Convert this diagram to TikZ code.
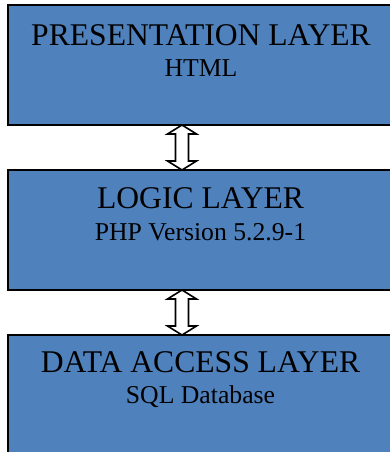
\documentclass[tikz,border=0pt]{standalone}
\usepackage{fontspec}
\setmainfont{Liberation Serif}
\definecolor{layerblue}{HTML}{4F81BD}
\begin{document}
\begin{tikzpicture}[x=1pt,y=-1pt,
  layer/.style={draw=black, line width=2pt, fill=layerblue,
    minimum width=385pt, minimum height=120pt, inner sep=0pt},
  title/.style={anchor=base, inner sep=0pt, font=\fontsize{31.6}{31.6}\selectfont},
  subtitle/.style={anchor=base, inner sep=0pt, font=\fontsize{25.7}{25.7}\selectfont},
  blockarrow/.style={draw=black, line width=1.6pt, fill=white, line join=miter}]
\clip (0,0) rectangle (390,452);
\fill[white] (0,0) rectangle (390,452);

% three stacked layers
\node[layer] (pres)  at (200.5,65)  {};
\node[layer] (logic) at (200.5,230) {};
\node[layer] (data)  at (200.5,395) {};

\node[title]    (presT)  at (201,46)  {PRESENTATION LAYER};
\node[subtitle] (presS)  at (201,77)  {HTML};
\node[title]    (logicT) at (200.5,208) {LOGIC LAYER};
\node[subtitle] (logicS) at (200.5,240) {PHP Version 5.2.9-1};
\node[title]    (dataT)  at (200.5,372) {DATA ACCESS LAYER};
\node[subtitle] (dataS)  at (200.5,403) {SQL Database};

% hollow two-way arrows between the layers
\coordinate (a1t) at (182,125);
\coordinate (a1b) at (182,170);
\coordinate (a2t) at (182,290);
\coordinate (a2b) at (182,335);
\foreach \t/\b in {a1t/a1b, a2t/a2b}{
  \draw[blockarrow] (\t) -- ++(14.5,9) -- ++(-8,0) -- ++(0,27) -- ++(8,0)
    -- (\b) -- ++(-14.5,-9) -- ++(8,0) -- ++(0,-27) -- ++(-8,0) -- cycle;
}
\end{tikzpicture}
\end{document}
